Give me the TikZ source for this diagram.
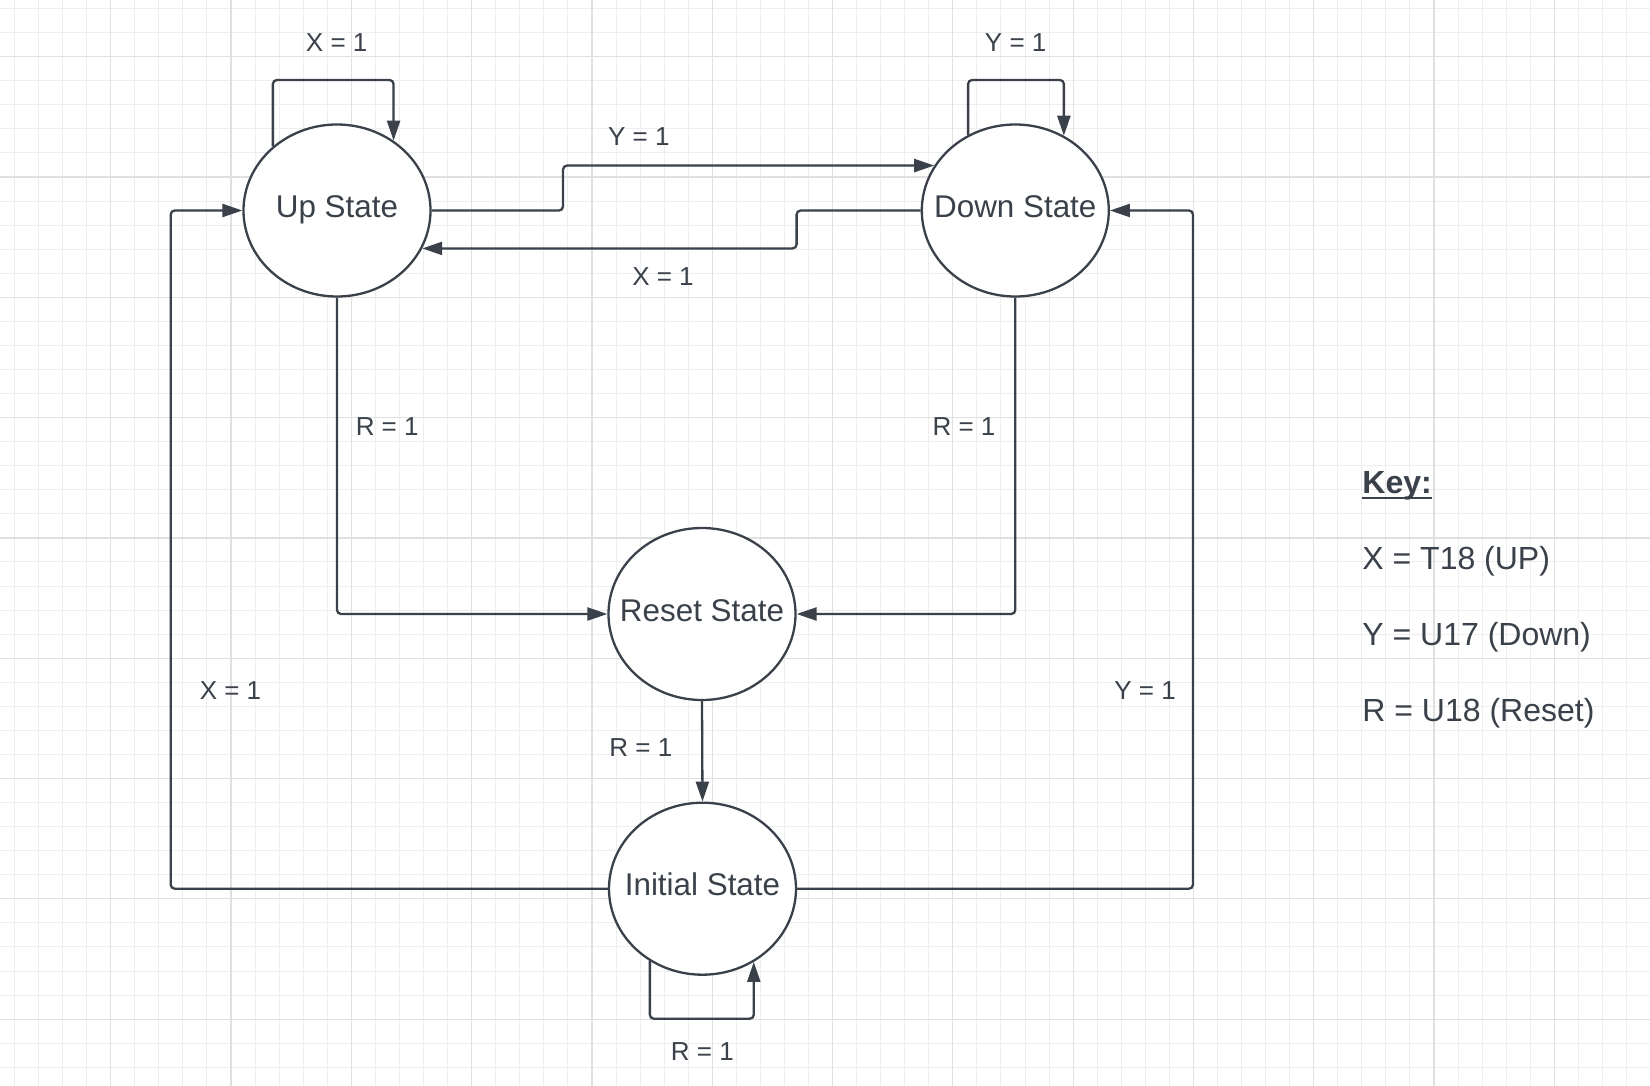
\documentclass[tikz,border=0pt]{standalone}
\usepackage{fontspec}
\setmainfont{Liberation Sans}
\usetikzlibrary{arrows.meta,shapes.geometric}
\definecolor{ink}{HTML}{3A414A}
\definecolor{gridminor}{HTML}{EEEEEE}
\definecolor{gridmajor}{HTML}{E0E0E0}
\begin{document}
\begin{tikzpicture}[x=0.5pt,y=-0.5pt,
  state/.style={ellipse, draw=ink, line width=1.15pt, fill=white, minimum width=93.5pt, minimum height=86pt, inner sep=0pt},
  stxt/.style={text=ink, inner sep=0pt, font=\fontsize{15.7}{18}\selectfont, text height=0.72em, text depth=0.21em, yshift=-1pt},
  lbl/.style={text=ink, font=\fontsize{13}{15}\selectfont, inner sep=0pt},
  keytxt/.style={text=ink, font=\fontsize{16}{19}\selectfont, inner sep=0pt, anchor=base west},
  arr/.style={draw=ink, line width=1.15pt, rounded corners=2pt, -{Triangle[length=10pt,width=6.5pt]}},
  ln/.style={draw=ink, line width=1.15pt, rounded corners=2pt}]
\useasboundingbox (0,0) rectangle (1650,1086);
\fill[white] (0,0) rectangle (1650,1086);
% grid
\foreach \i in {0,...,68} { \draw[gridminor, line width=0.5pt] ({14.5+24.06*\i},0) -- ({14.5+24.06*\i},1086); }
\foreach \j in {0,...,45} { \draw[gridminor, line width=0.5pt] (0,{8.6+24.06*\j}) -- (1650,{8.6+24.06*\j}); }
\foreach \i in {0,...,12} { \draw[gridmajor, line width=0.6pt] ({110.7+120.3*\i},0) -- ({110.7+120.3*\i},1086); }
\foreach \j in {0,...,8} { \draw[gridmajor, line width=0.6pt] (0,{56.7+120.3*\j}) -- (1650,{56.7+120.3*\j}); }

% states
\node[state] (up) at (337,210.5) {};
\node[state] (down) at (1015.3,210.5) {};
\node[state] (reset) at (702,614) {};
\node[state] (init) at (702.5,888.7) {};
\node[stxt] (upt) at (up) {Up State};
\node[stxt] (downt) at (down) {Down State};
\node[stxt] (resett) at (reset) {Reset State};
\node[stxt] (initt) at (init) {Initial State};

% helper coordinates
\coordinate (looptop) at (0,80);
\coordinate (loopbot) at (0,1018.7);
\coordinate (j1) at (563,0);
\coordinate (j2) at (796.6,0);
\coordinate (j3) at (170.7,0);
\coordinate (j4) at (1193,0);

% self loops
\draw[arr] (up.135.7) |- (up.51.5 |- looptop) -- (up.51.5);
\draw[arr] (down.122.2) |- (down.57.9 |- looptop) -- (down.57.9);
\draw[arr] (init.234.3) |- (init.305.6 |- loopbot) -- (init.305.6);

% transitions
\draw[arr] (up.east) -| (j1 |- down.151.5) -- (down.151.5);
\draw[arr] (down.west) -| (j2 |- up.-24.7) -- (up.-24.7);
\draw[arr] (up.south) |- (reset.west);
\draw[arr] (down.south) |- (reset.east);
\draw[arr] (reset.south) -- (init.north);
\draw[arr] (init.west) -| (j3 |- up.west) -- (up.west);
\draw[arr] (init.east) -| (j4 |- down.east) -- (down.east);

% labels
\node[lbl] (l1) at (336.7,42.7) {X = 1};
\node[lbl] (l2) at (1015.7,42.7) {Y = 1};
\node[lbl] (l3) at (638.8,136.8) {Y = 1};
\node[lbl] (l4) at (663,276.8) {X = 1};
\node[lbl] (l5) at (387.2,426.2) {R = 1};
\node[lbl] (l6) at (964,426.2) {R = 1};
\node[lbl] (l7) at (640.9,747.1) {R = 1};
\node[lbl] (l8) at (230.5,690.3) {X = 1};
\node[lbl] (l9) at (1145,690.3) {Y = 1};
\node[lbl] (l10) at (702.3,1051.7) {R = 1};

% key
\node[keytxt] (k0) at (1362,493.3) {\textbf{Key:}};
\draw[ink, line width=1pt] ([yshift=-2.2pt]k0.base west) -- ([yshift=-2.2pt]k0.base east);
\node[keytxt] (k1) at (1362,569.3) {X = T18 (UP)};
\node[keytxt] (k2) at (1362,645) {Y = U17 (Down)};
\node[keytxt] (k3) at (1362,721.7) {R = U18 (Reset)};
\end{tikzpicture}
\end{document}
